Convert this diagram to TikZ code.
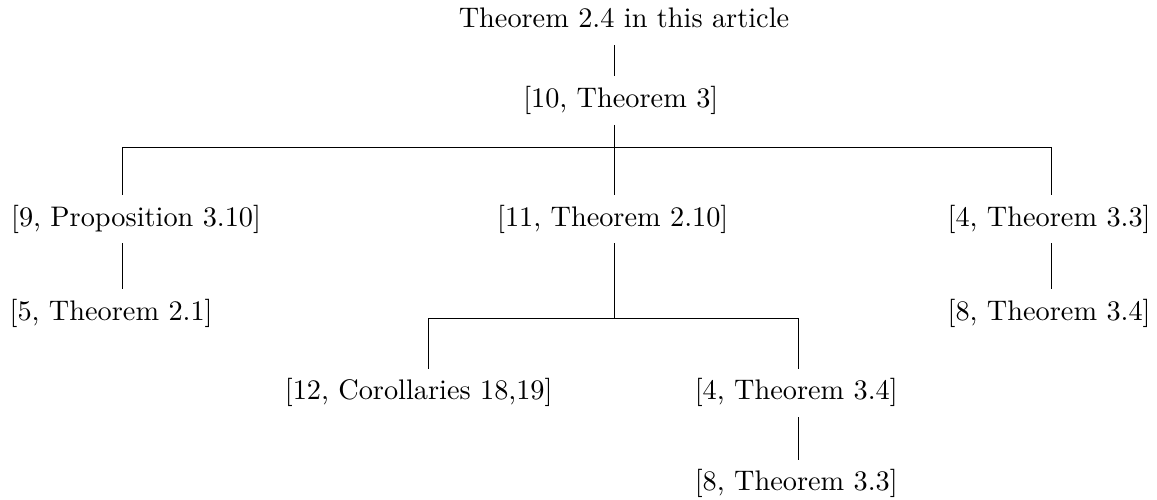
\documentclass[tikz,border=0pt]{standalone}
\usepackage{amsmath}
\usepackage{tikz}

\tikzset{ref/.style={text height=7.5pt, text depth=2.5pt}}

\begin{document}
\begin{tikzpicture}
	\useasboundingbox (0,0) rectangle (14.37,6.21);
	% levels
	\node[ref] (top) at (7.75,5.95) {Theorem 2.4 in this article};
	\node[ref] (t10) at (7.71,4.96) {[10, Theorem 3]};
	\node[ref] (p9) at (1.69,3.49) {[9, Proposition 3.10]};
	\node[ref] (t11) at (7.61,3.49) {[11, Theorem 2.10]};
	\node[ref] (t4a) at (13.03,3.49) {[4, Theorem 3.3]};
	\node[ref] (t5) at (1.38,2.32) {[5, Theorem 2.1]};
	\node[ref] (t8a) at (13.03,2.32) {[8, Theorem 3.4]};
	\node[ref] (c12) at (5.20,1.33) {[12, Corollaries 18,19]};
	\node[ref] (t4b) at (9.89,1.33) {[4, Theorem 3.4]};
	\node[ref] (t8b) at (9.89,0.20) {[8, Theorem 3.3]};

	% where the lines run
	\coordinate (xm) at (7.63,0);
	\coordinate (xl) at (1.52,0);
	\coordinate (xr) at (13.06,0);
	\coordinate (xc) at (5.32,0);
	\coordinate (xd) at (9.92,0);
	\coordinate (J) at (7.63,4.38);
	\coordinate (K) at (7.63,2.25);

	\draw (top.south -| xm) -- (t10.north -| xm);
	\draw (t10.south -| xm) -- (t11.north -| xm);
	\draw (p9.north -| xl) |- (J) -| (t4a.north -| xr);
	\draw (p9.south -| xl) -- (t5.north -| xl);
	\draw (t4a.south -| xr) -- (t8a.north -| xr);
	\draw (t11.south -| xm) -- (K);
	\draw (c12.north -| xc) |- (K) -| (t4b.north -| xd);
	\draw (t4b.south -| xd) -- (t8b.north -| xd);
\end{tikzpicture}
\end{document}
